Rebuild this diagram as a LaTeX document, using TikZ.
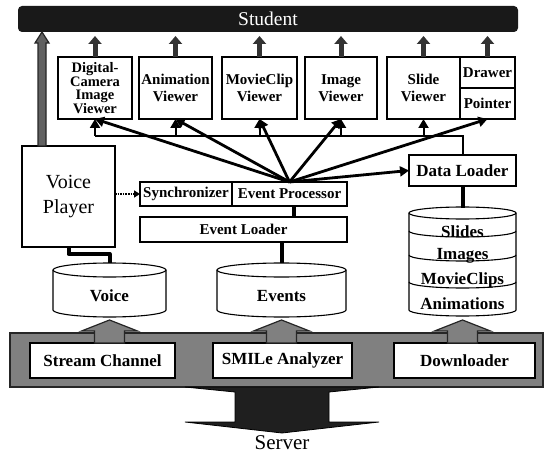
\documentclass[tikz,border=0pt]{standalone}
\usepackage{fontspec}
\setmainfont{Liberation Serif}
\usetikzlibrary{arrows.meta,calc}
\begin{document}
\begin{tikzpicture}[x=1pt,y=-1pt,
  every node/.style={inner sep=0pt, outer sep=0pt},
  box/.style={draw=black, line width=1.1pt, fill=white, align=center,
    font=\fontsize{15}{17}\selectfont\bfseries},
  biglbl/.style={font=\fontsize{17}{19}\selectfont\bfseries},
  fan/.style={line width=2.8pt, -{Triangle[length=9pt,width=10pt]}},
  bus/.style={line width=2pt},
  busarr/.style={line width=2pt, -{Triangle[length=9pt,width=10pt]}},
  link/.style={line width=4pt, line join=round},
  toclient/.style={line width=5pt, black!80, -{Triangle[length=8pt,width=13pt]}},
  cyl/.style={draw=black, line width=1.1pt, fill=white},
  hatch/.style={fill=black!50, draw=black!85, line width=1.2pt},
  pics/feed/.style={code={
    \path[hatch] (-15,0) -- (-15,-12) -- (-28,-12) -- (0,-23) -- (28,-12)
      -- (15,-12) -- (15,0) -- cycle;}},
]
\useasboundingbox (0,0) rectangle (548,454);

% client side bar
\node[fill=black!90, rounded corners=4pt, minimum width=500pt, minimum height=26pt,
  text=white, font=\fontsize{19.5}{20}\selectfont] (student) at (268,19) {Student};

% viewers
\node[box, minimum width=74pt, minimum height=62pt,
  font=\fontsize{14.5}{13.5}\selectfont\bfseries] (dciv) at (95,88) {Digital-\\Camera\\Image\\Viewer};
\node[box, minimum width=73pt, minimum height=62pt] (anim) at (175.5,88) {Animation\\Viewer};
\node[box, minimum width=75pt, minimum height=62pt] (movie) at (259.5,88) {MovieClip\\Viewer};
\node[box, minimum width=72pt, minimum height=62pt] (image) at (341,88) {Image\\Viewer};
\node[box, minimum width=73pt, minimum height=62pt] (slide) at (423.5,88) {Slide\\Viewer};
\node[box, minimum width=55pt, minimum height=31pt] (drawer) at (487.5,72.5) {Drawer};
\node[box, minimum width=55pt, minimum height=31pt] (pointer) at (487.5,103.5) {Pointer};

% viewer outputs to the student
\foreach \v in {dciv,anim,movie,image,slide,drawer}
  \draw[toclient] (\v.north) -- ([yshift=-4pt]\v.north |- student.south);

% player, processors, loaders
\node[box, minimum width=93pt, minimum height=101pt,
  font=\fontsize{20}{25}\selectfont] (vp) at (68.5,196.5) {Voice\\Player};
\node[box, minimum width=92pt, minimum height=24pt] (sync) at (186,194) {Synchronizer};
\node[box, minimum width=115pt, minimum height=24pt] (evp) at (289.5,194) {Event Processor};
\node[box, minimum width=207pt, minimum height=25pt] (evl) at (243.5,229.5) {Event Loader};
\node[box, minimum width=107pt, minimum height=31pt, biglbl] (dl) at (462.5,170.5) {Data Loader};

% voice player output to the student
\coordinate (up0) at ([xshift=-26.5pt]vp.north);
\coordinate (up1) at (up0 |- student.south);
\path[hatch, fill=black!62] ($(up0)+(-4,0)$) -- ($(up1)+(-4,11)$) -- ($(up1)+(-7,11)$) -- (up1)
  -- ($(up1)+(7,11)$) -- ($(up1)+(4,11)$) -- ($(up0)+(4,0)$) -- cycle;

% data bus from the loader to the viewers
\coordinate (busy) at (0,136);
\draw[bus] (dl.north) |- (dciv.south |- busy);
\foreach \v in {dciv,anim,movie,image,slide}
  \draw[busarr] (\v.south |- busy) -- (\v.south);

% event fan-out
\foreach \v in {dciv,anim,movie,image,pointer}
  \draw[fan] (evp.north) -- (\v.south);
\draw[fan] (evp.north) -- (dl.west);

% voice player triggers the synchronizer
\draw[line width=1.6pt, dash pattern=on 1.6pt off 1pt, -{Triangle[length=6pt,width=7pt]}]
  (vp.east |- sync.west) -- (sync.west);

% storage cylinders
\path[cyl] (53,270) -- (53,310) arc[start angle=180,end angle=360,x radius=56.5pt,y radius=7pt]
  -- (166,270) arc[start angle=0,end angle=180,x radius=56.5pt,y radius=7pt] -- cycle;
\draw[line width=1.1pt] (53,270) arc[start angle=180,end angle=360,x radius=56.5pt,y radius=7pt];
\coordinate (vtop) at (109.5,263);
\coordinate (vbot) at (109.5,317);
\node[biglbl] (vlbl) at (109.5,296) {Voice};

\path[cyl] (217,270) -- (217,310) arc[start angle=180,end angle=360,x radius=64.5pt,y radius=7pt]
  -- (346,270) arc[start angle=0,end angle=180,x radius=64.5pt,y radius=7pt] -- cycle;
\draw[line width=1.1pt] (217,270) arc[start angle=180,end angle=360,x radius=64.5pt,y radius=7pt];
\coordinate (etop) at (281.5,263);
\coordinate (ebot) at (281.5,317);
\node[biglbl] (elbl) at (281.5,296) {Events};

\path[cyl] (409,213) -- (409,310) arc[start angle=180,end angle=360,x radius=53.5pt,y radius=6pt]
  -- (516,213) arc[start angle=0,end angle=180,x radius=53.5pt,y radius=6pt] -- cycle;
\foreach \yy in {213,231,255,282}
  \draw[line width=1.1pt] (409,\yy) arc[start angle=180,end angle=360,x radius=53.5pt,y radius=6pt];
\coordinate (dtop) at (462.5,208);
\coordinate (dbot) at (462.5,316);
\node[biglbl] (s1) at (462.5,232) {Slides};
\node[biglbl] (s2) at (462.5,256) {Images};
\node[biglbl] (s3) at (462.5,280) {MovieClips};
\node[biglbl] (s4) at (462.5,304) {Animations};

% links into the stores
\draw[link] (vp.south) -- ++(0,7) -| (vtop);
\draw[link] ([xshift=4.5pt]evp.south) -- ([xshift=4.5pt]evp.south |- evl.north);
\draw[link] (evl.south -| etop) -- (etop);
\draw[link] (dl.south) -- (dtop);

% server-side band
\node[hatch, minimum width=533pt, minimum height=54pt] (band) at (276.5,360) {};
\node[box, biglbl, minimum width=145pt, minimum height=35pt] (stream) at (102.5,360.5) {Stream Channel};
\node[box, biglbl, minimum width=139pt, minimum height=35pt] (smile) at (282.5,360.5) {SMILe Analyzer};
\node[box, biglbl, minimum width=141pt, minimum height=35pt] (down) at (464.5,360.5) {Downloader};
\pic at (stream.north -| vbot) {feed};
\pic at (smile.north -| ebot) {feed};
\pic at (down.north -| dbot) {feed};

% server arrow
\coordinate (srv) at (282,387);
\path[fill=black!88, draw=black, line width=0.8pt] ($(srv)+(-97,0)$) -- ($(srv)+(97,0)$) -- ($(srv)+(47,5)$)
  -- ($(srv)+(47,35)$) -- ($(srv)+(97,35)$) -- ($(srv)+(0,46)$) -- ($(srv)+(-97,35)$)
  -- ($(srv)+(-47,35)$) -- ($(srv)+(-47,5)$) -- cycle;
\node[font=\fontsize{21}{22}\selectfont] (server) at (282,443) {Server};
\end{tikzpicture}
\end{document}
